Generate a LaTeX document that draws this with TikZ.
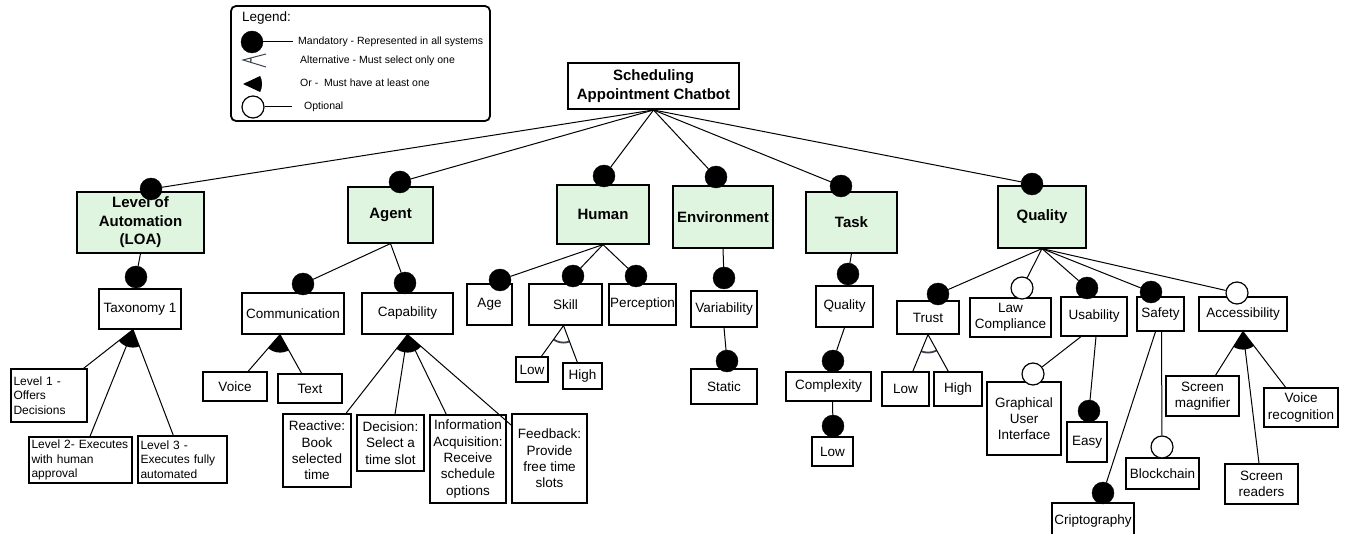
\documentclass[tikz,border=0pt]{standalone}
\usepackage{fontspec}
\setmainfont{Liberation Sans}
\usetikzlibrary{calc}
\definecolor{featgreen}{RGB}{224,245,224}
\definecolor{altgray}{RGB}{58,66,80}
\tikzset{
	conn/.style={line width=1pt},
	wh/.style 2 args={minimum width=#1, minimum height=#2},
	box/.style={draw, line width=1.2pt, align=center, inner sep=1pt, font=\fontsize{13.5}{16.3}\selectfont},
	lvbox/.style={box, align=left, inner xsep=2.5pt, text width=#1, font=\fontsize{12}{14.3}\selectfont},
	head/.style={box, fill=featgreen, font=\bfseries\fontsize{15}{18.5}\selectfont},
	mand/.style={circle, draw, fill=black, minimum size=22, inner sep=0pt},
	opt/.style={circle, draw, line width=1.2pt, fill=white, minimum size=22, inner sep=0pt},
	legtext/.style={anchor=west, inner sep=0pt, font=\fontsize{10.5}{12}\selectfont},
	altarc/.style={draw=altgray, line width=1.8pt},
}
\begin{document}
\begin{tikzpicture}[x=1pt, y=-1pt]
		\useasboundingbox (0,0) rectangle (1348,534);
		% Legende
		\draw[line width=1.8pt, rounded corners=5pt] (231,6) rectangle (490,121);
		\node[anchor=west, inner sep=0pt, font=\fontsize{13.5}{16}\selectfont] (lg-title) at (242,18) {Legend:};
		\node[mand] (lg-mand) at (252,42) {};
		\coordinate (lg-mand-e) at (293,42);
		\draw[conn] (lg-mand) -- (lg-mand-e);
		\node[legtext] (lg-t1) at (298,42) {Mandatory - Represented in all systems};
		\coordinate (lg-alt) at (243,60);
		\coordinate (lg-alt-a) at (266,54);
		\coordinate (lg-alt-b) at (266,67);
		\draw[altgray, line width=1pt] (lg-alt-a) -- (lg-alt) -- (lg-alt-b);
		\begin{scope}
			\clip (lg-alt) -- (lg-alt-a) -- (lg-alt-b) -- cycle;
			\draw[altgray, line width=1.2pt] (lg-alt) circle (8);
		\end{scope}
		\node[legtext] (lg-t2) at (300,61) {Alternative - Must select only one};
		\coordinate (lg-or) at (243,84);
		\fill (lg-or) -- ++(25:19) arc[start angle=25, end angle=-25, radius=19] -- cycle;
		\node[legtext] (lg-t3) at (300,83) {Or -\ \ Must have at least one};
		\node[opt] (lg-opt) at (253,107) {};
		\coordinate (lg-opt-e) at (292,107);
		\draw[conn] (lg-opt) -- (lg-opt-e);
		\node[legtext] (lg-t4) at (304,107) {Optional};
		% Wurzel und erste Ebene
		\node[head, fill=white, line width=2pt, wh={171}{46}] (root) at (653.5,86) {Scheduling\\Appointment Chatbot};
		\node[head, wh={127}{61}] (loa) at (140.5,222.5) {Level of\\Automation\\(LOA)};
		\node[head, wh={85}{56}] (agent) at (390.5,215) {Agent};
		\node[head, wh={92}{59}] (human) at (603,214.5) {Human};
		\node[head, wh={100}{62}] (env) at (723,217) {Environment};
		\node[head, wh={91}{61}] (task) at (851.5,222.5) {Task};
		\node[head, wh={88}{62}] (qual) at (1042,217) {Quality};
		\node[mand] (c-loa) at (151,189) {};
		\node[mand] (c-agent) at (400,182) {};
		\node[mand] (c-human) at (604,176) {};
		\node[mand] (c-env) at (716,177) {};
		\node[mand] (c-task) at (841,186) {};
		\node[mand] (c-qual) at (1032,184) {};
		\draw[conn] (root.south) -- (c-loa);
		\draw[conn] (root.south) -- (c-agent);
		\draw[conn] (root.south) -- (c-human);
		\draw[conn] (root.south) -- (c-env);
		\draw[conn] (root.south) -- (c-task);
		\draw[conn] (root.south) -- (c-qual);
		% LOA
		\node[box, wh={82}{40}] (tax) at (140,309) {Taxonomy 1};
		\node[mand] (c-tax) at (136,277) {};
		\draw[conn] (loa.south) -- (c-tax);
		\node[lvbox=71, minimum height=53] (lv1) at (49,395.5) {Level 1 -\\Offers\\Decisions};
		\node[lvbox=98, minimum height=46] (lv2) at (80.5,460) {Level 2- Executes\\with human\\approval};
		\node[lvbox=84, minimum height=47] (lv3) at (182.5,459.5) {Level 3 -\\Executes fully\\automated};
		\coordinate (tax-g) at ([xshift=-7pt]tax.south);
		\begin{scope}
			\clip (tax-g) -- (lv1.center) -- (lv3.center) -- cycle;
			\fill (tax-g) circle (18);
		\end{scope}
		\draw[conn] (tax-g) -- (lv1);
		\draw[conn] (tax-g) -- (lv2);
		\draw[conn] (tax-g) -- (lv3);
		% Agent
		\node[box, wh={102}{41}] (comm) at (293,313.5) {Communication};
		\node[box, wh={91}{41}] (capab) at (407.5,313.5) {Capability};
		\node[mand] (c-comm) at (303,284) {};
		\node[mand] (c-capab) at (405,283) {};
		\draw[conn] (agent.south) -- (c-comm);
		\draw[conn] (agent.south) -- (c-capab);
		\node[box, wh={64}{29}] (voice) at (235,386.5) {Voice};
		\node[box, wh={64}{29}] (text) at (310,388.5) {Text};
		\coordinate (comm-g) at ([xshift=-13pt]comm.south);
		\begin{scope}
			\clip (comm-g) -- (voice.center) -- (text.center) -- cycle;
			\fill (comm-g) circle (18);
		\end{scope}
		\draw[conn] (comm-g) -- (voice);
		\draw[conn] (comm-g) -- (text);
		\node[box, wh={68}{73}] (react) at (317,450.5) {Reactive:\\Book\\selected\\time};
		\node[box, wh={67}{56}] (decis) at (390.5,443) {Decision:\\Select a\\time slot};
		\node[box, wh={76}{88}] (info) at (468,459) {Information\\Acquisition:\\Receive\\schedule\\options};
		\node[box, wh={75}{89}] (feedb) at (549.5,458.5) {Feedback:\\Provide\\free time\\slots};
		\coordinate (capab-g) at (capab.south);
		\begin{scope}
			\clip (capab-g) -- (react.center) -- (feedb.center) -- cycle;
			\fill (capab-g) circle (18);
		\end{scope}
		\draw[conn] (capab-g) -- (react);
		\draw[conn] (capab-g) -- (decis);
		\draw[conn] (capab-g) -- (info);
		\draw[conn] (capab-g) -- (feedb);
		% Human
		\node[box, wh={45}{41}] (age) at (489.5,304.5) {Age};
		\node[box, wh={73}{41}] (skill) at (565.5,304.5) {Skill};
		\node[box, wh={67}{41}] (percep) at (642.5,304.5) {Perception};
		\node[mand] (c-age) at (500,280) {};
		\node[mand] (c-skill) at (573,276) {};
		\node[mand] (c-percep) at (636,276) {};
		\draw[conn] (human.south) -- (c-age);
		\draw[conn] (human.south) -- (c-skill);
		\draw[conn] (human.south) -- (c-percep);
		\node[box, wh={32}{25}] (low1) at (532,369.5) {Low};
		\node[box, wh={39}{26}] (high1) at (582.5,376) {High};
		\coordinate (skill-g) at ([xshift=-2pt]skill.south);
		\begin{scope}
			\clip (skill-g) -- (low1.center) -- (high1.center) -- cycle;
			\draw[altarc] (skill-g) circle (17);
		\end{scope}
		\draw[conn] (skill-g) -- (low1);
		\draw[conn] (skill-g) -- (high1);
		% Environment
		\node[box, wh={66}{36}] (var) at (724,309) {Variability};
		\node[box, wh={66}{35}] (static) at (724,386.5) {Static};
		\node[mand] (c-var) at (724,278) {};
		\node[mand] (c-static) at (727,361) {};
		\draw[conn] (env.south) -- (c-var);
		\draw[conn] (var.south) -- (c-static);
		% Task
		\node[box, wh={57}{41}] (qsub) at (844.5,306.5) {Quality};
		\node[box, wh={85}{29}] (compl) at (828.5,386.5) {Complexity};
		\node[box, wh={41}{29}] (low2) at (832.5,451.5) {Low};
		\node[mand] (c-qsub) at (848,274) {};
		\node[mand] (c-compl) at (833,361) {};
		\node[mand] (c-low2) at (833,426) {};
		\draw[conn] (task.south) -- (c-qsub);
		\draw[conn] (qsub.south) -- (c-compl);
		\draw[conn] ([xshift=4pt]compl.south) -- (c-low2);
		% Quality
		\node[box, wh={62}{33}] (trust) at (928,317.5) {Trust};
		\node[box, wh={81}{39}] (law) at (1010.5,317.5) {Law\\Compliance};
		\node[box, wh={66}{39}] (usab) at (1094,316.5) {Usability};
		\node[box, wh={47}{34}] (saf) at (1160.5,314) {Safety};
		\node[box, wh={88}{34}] (access) at (1243,314) {Accessibility};
		\node[mand] (c-trust) at (938,294) {};
		\node[opt] (c-law) at (1022,288) {};
		\node[mand] (c-usab) at (1087,288) {};
		\node[mand] (c-saf) at (1151,292) {};
		\node[opt] (c-access) at (1237,293) {};
		\draw[conn] (qual.south) -- (c-trust);
		\draw[conn] (qual.south) -- (c-law);
		\draw[conn] (qual.south) -- (c-usab);
		\draw[conn] (qual.south) -- (c-saf);
		\draw[conn] (qual.south) -- (c-access);
		\node[box, wh={47}{34}] (low3) at (905.5,389) {Low};
		\node[box, wh={48}{34}] (high3) at (958,389) {High};
		\coordinate (trust-g) at (trust.south);
		\begin{scope}
			\clip (trust-g) -- (low3.center) -- (high3.center) -- cycle;
			\draw[altarc] (trust-g) circle (18);
		\end{scope}
		\draw[conn] (trust-g) -- (low3);
		\draw[conn] (trust-g) -- (high3);
		\node[box, wh={74}{73}] (gui) at (1024,418.5) {Graphical\\User\\Interface};
		\node[box, wh={40}{40}] (easy) at (1087,442) {Easy};
		\node[opt] (c-gui) at (1033,374) {};
		\node[mand] (c-easy) at (1089,411) {};
		\draw[conn] ([xshift=-13pt]usab.south) -- (c-gui);
		\draw[conn] ([xshift=2pt]usab.south) -- (c-easy);
		\node[box, wh={82}{36}] (cript) at (1093,521) {Criptography};
		\node[box, wh={73}{31}] (block) at (1162.5,473.5) {Blockchain};
		\node[mand] (c-cript) at (1103,493) {};
		\node[opt] (c-block) at (1162,447) {};
		\draw[conn] ([xshift=-5pt]saf.south) -- (c-cript);
		\draw[conn] ([xshift=1pt]saf.south) -- (c-block);
		\node[box, wh={73}{40}] (smag) at (1202.5,396) {Screen\\magnifier};
		\node[box, wh={73}{40}] (sread) at (1261.5,484) {Screen\\readers};
		\node[box, wh={74}{39}] (vrec) at (1301,407.5) {Voice\\recognition};
		\coordinate (access-g) at (access.south);
		\begin{scope}
			\clip (access-g) -- (smag.center) -- (vrec.center) -- cycle;
			\fill (access-g) circle (18);
		\end{scope}
		\draw[conn] (access-g) -- (smag);
		\draw[conn] (access-g) -- (sread);
		\draw[conn] (access-g) -- (vrec);
	\end{tikzpicture}
\end{document}
